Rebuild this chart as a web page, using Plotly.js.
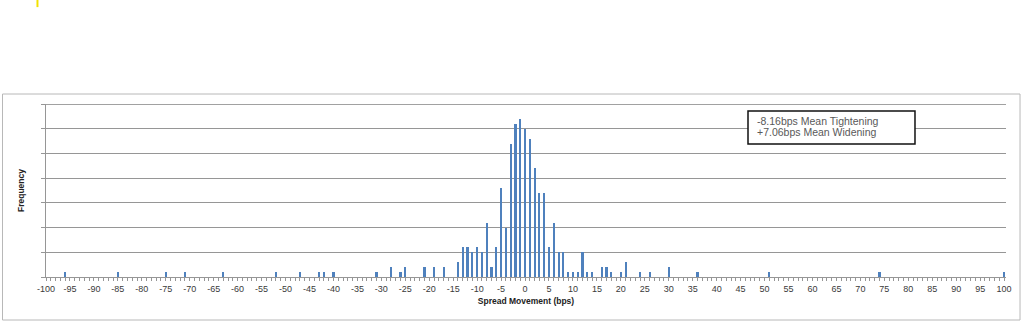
<!DOCTYPE html>
<html>
<head>
<meta charset="utf-8">
<script src="https://cdn.plot.ly/plotly-3.0.1.min.js"></script>
<style>
  html, body { margin: 0; padding: 0; background: #ffffff; }
  #chart { width: 1024px; height: 324px; }
</style>
</head>
<body>
<div id="chart"></div>
<script>
// Spread movement bins (bps) with non-zero counts
const spreadBps = [-96, -85, -75, -71, -63, -52, -47, -43, -42, -40,
  -31, -28, -26, -25, -21, -19, -17, -14, -13, -12, -11, -10, -9, -8, -7, -6, -5, -4, -3, -2, -1,
  0, 1, 2, 3, 4, 5, 6, 7, 8, 9, 10, 11, 12, 13, 14, 16, 17, 18, 20, 21, 24, 26, 30, 36, 51, 74, 100];
const frequency = [1, 1, 1, 1, 1, 1, 1, 1, 1, 1,
  1, 2, 1, 2, 2, 2, 2, 3, 6, 6, 5, 6, 5, 11, 2, 6, 18, 10, 27, 31, 32,
  30, 28, 22, 17, 17, 6, 11, 5, 5, 1, 1, 1, 5, 1, 1, 2, 2, 1, 1, 3, 1, 1, 2, 1, 1, 1, 1];
const xTickValues = [];
for (let v = -100; v <= 100; v += 5) xTickValues.push(v);
const xTickLabels = xTickValues.map(String);
const statLines = ["-8.16bps Mean Tightening", "+7.06bps Mean Widening"];

const gridGray = '#969696';
const font = 'Liberation Sans, Arial, sans-serif';

const trace = {
  type: 'bar',
  x: spreadBps,
  y: frequency,
  width: 0.45,
  marker: { color: '#4F81BD', line: { width: 0 } },
  hoverinfo: 'x+y'
};

const layout = {
  width: 1024,
  height: 324,
  margin: { l: 46, r: 18, t: 104, b: 47, pad: 0 },
  paper_bgcolor: '#ffffff',
  plot_bgcolor: '#ffffff',
  showlegend: false,
  font: { family: font, size: 9, color: '#333333' },
  bargap: 0,
  xaxis: {
    range: [-100, 100.4],
    tickmode: 'array',
    tickvals: xTickValues,
    ticktext: xTickLabels,
    ticks: 'outside',
    ticklen: 3,
    tickcolor: gridGray,
    tickwidth: 1,
    minor: { dtick: 1, tick0: 0, ticks: 'outside', ticklen: 3, tickcolor: gridGray, showgrid: false },
    showline: true,
    linecolor: gridGray,
    linewidth: 1,
    showgrid: false,
    zeroline: false,
    tickfont: { family: font, size: 9, color: '#3a3a3a' },
    title: { text: '<b>Spread Movement (bps)</b>', font: { family: font, size: 8.5, color: '#222222' }, standoff: 5 },
    fixedrange: true
  },
  yaxis: {
    range: [0, 35],
    dtick: 5,
    tick0: 0,
    showticklabels: false,
    ticks: 'outside',
    ticklen: 4,
    tickcolor: gridGray,
    showline: true,
    linecolor: gridGray,
    linewidth: 1,
    showgrid: true,
    gridcolor: gridGray,
    gridwidth: 1,
    zeroline: false,
    title: { text: '<b>Frequency</b>', font: { family: font, size: 8.5, color: '#222222' }, standoff: 15 },
    fixedrange: true
  },
  shapes: [
    { type: 'rect', xref: 'paper', yref: 'paper', x0: -0.0453, x1: 1.0146, y0: -0.2486, y1: 1.0578,
      line: { color: '#b8b8b8', width: 1 }, fillcolor: 'rgba(0,0,0,0)', layer: 'below' },
    { type: 'line', xref: 'paper', yref: 'y', x0: 0, x1: 1, y0: 34.92, y1: 34.92,
      line: { color: gridGray, width: 1 }, layer: 'above' },
    { type: 'rect', xref: 'paper', yref: 'paper', x0: 0.73125, x1: 0.9052, y0: 0.7688, y1: 0.9595,
      line: { color: '#111111', width: 1.5 }, fillcolor: '#ffffff', layer: 'above' },
    { type: 'line', xref: 'paper', yref: 'paper', x0: -0.0089, x1: -0.0089, y0: 1.56, y1: 1.601,
      line: { color: '#f2e200', width: 2 } }
  ],
  annotations: [
    { xref: 'paper', yref: 'paper', x: 0.7385, y: 0.9035, xanchor: 'left', yanchor: 'middle',
      text: statLines[0], showarrow: false, font: { family: font, size: 10.5, color: '#595959' } },
    { xref: 'paper', yref: 'paper', x: 0.7385, y: 0.8399, xanchor: 'left', yanchor: 'middle',
      text: statLines[1], showarrow: false, font: { family: font, size: 10.5, color: '#595959' } }
  ]
};

Plotly.newPlot('chart', [trace], layout, { displayModeBar: false, staticPlot: true });
</script>
</body>
</html>
